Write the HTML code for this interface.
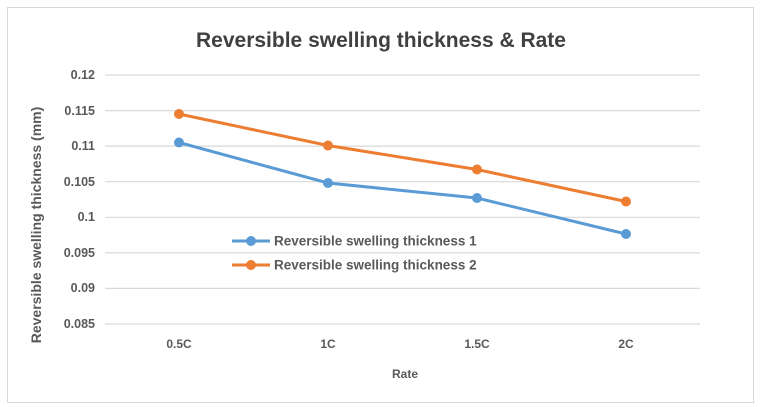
<!DOCTYPE html>
<html><head><style>body{margin:0;background:#fff}svg{display:block}</style></head><body>
<svg width="762" height="407" xmlns="http://www.w3.org/2000/svg" font-family="Liberation Sans, sans-serif">
<rect x="7.5" y="7.5" width="746" height="395" fill="#fff" stroke="#d9d9d9"/>
<text x="381" y="47" text-anchor="middle" font-size="21" font-weight="bold" fill="#404040">Reversible swelling thickness &amp; Rate</text>
<g stroke="#d9d9d9" stroke-width="1.2">
<line x1="105" x2="700" y1="75" y2="75"/><line x1="105" x2="700" y1="110.6" y2="110.6"/>
<line x1="105" x2="700" y1="146.1" y2="146.1"/><line x1="105" x2="700" y1="181.7" y2="181.7"/>
<line x1="105" x2="700" y1="217.3" y2="217.3"/><line x1="105" x2="700" y1="252.9" y2="252.9"/>
<line x1="105" x2="700" y1="288.4" y2="288.4"/><line x1="105" x2="700" y1="324" y2="324"/>
</g>
<g font-size="12.5" font-weight="bold" fill="#595959" text-anchor="end">
<text x="95" y="79">0.12</text><text x="95" y="115">0.115</text><text x="95" y="150">0.11</text>
<text x="95" y="186">0.105</text><text x="95" y="221">0.1</text><text x="95" y="257">0.095</text>
<text x="95" y="292">0.09</text><text x="95" y="328">0.085</text>
</g>
<g font-size="12" font-weight="bold" fill="#595959" text-anchor="middle">
<text x="179" y="348">0.5C</text><text x="328" y="348">1C</text><text x="477" y="348">1.5C</text><text x="626" y="348">2C</text>
<text x="405" y="378">Rate</text>
</g>
<text transform="translate(41,225) rotate(-90)" text-anchor="middle" font-size="14" font-weight="bold" fill="#595959">Reversible swelling thickness (mm)</text>
<polyline points="179,142.5 328,183 477,198 626,234" fill="none" stroke="#5b9bd5" stroke-width="3"/>
<polyline points="179,114 328,145.5 477,169.5 626,201.5" fill="none" stroke="#ed7d31" stroke-width="3"/>
<g fill="#5b9bd5"><circle cx="179" cy="142.5" r="5"/><circle cx="328" cy="183" r="5"/><circle cx="477" cy="198" r="5"/><circle cx="626" cy="234" r="5"/></g>
<g fill="#ed7d31"><circle cx="179" cy="114" r="5"/><circle cx="328" cy="145.5" r="5"/><circle cx="477" cy="169.5" r="5"/><circle cx="626" cy="201.5" r="5"/></g>
<line x1="232" x2="270" y1="241" y2="241" stroke="#5b9bd5" stroke-width="3"/><circle cx="251" cy="241" r="5" fill="#5b9bd5"/>
<line x1="232" x2="270" y1="265" y2="265" stroke="#ed7d31" stroke-width="3"/><circle cx="251" cy="265" r="5" fill="#ed7d31"/>
<g font-size="13.5" font-weight="bold" fill="#595959">
<text x="274" y="245.5">Reversible swelling thickness 1</text>
<text x="274" y="269.5">Reversible swelling thickness 2</text>
</g>
</svg>
</body></html>
